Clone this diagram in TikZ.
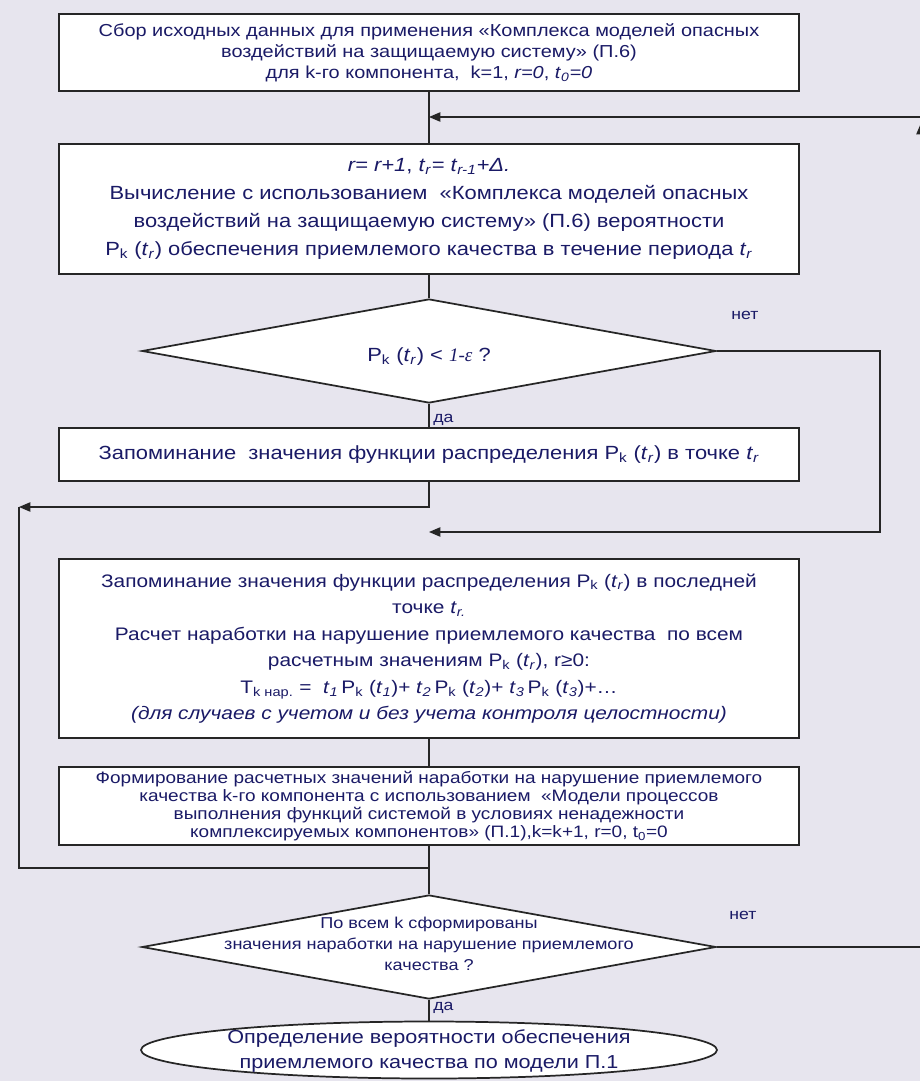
\documentclass[tikz,border=0pt]{standalone}
\usepackage{fontspec}
\setmainfont{Liberation Sans}[FakeStretch=1.15]
\newfontfamily\serifit{Liberation Serif}
\usetikzlibrary{shapes.geometric,arrows.meta}

\definecolor{slidebg}{RGB}{231,229,238}
\definecolor{navy}{RGB}{26,26,102}

\newcommand{\px}{0.75pt}
\newcommand{\tr}[1]{\textit{t}\textsubscript{\textit{#1}}}
\newcommand{\Pk}{P\textsubscript{k}}
\newcommand{\shapetext}[2][0pt]{\smash{\raisebox{#1}{\begin{tabular}{@{}c@{}}#2\end{tabular}}}}

\tikzset{
  block/.style={draw=black!85, line width=1.3pt, fill=white, text=navy, align=center,
    minimum width=740*\px, inner sep=0pt, font=\fontsize{14.3}{21}\selectfont},
  decision/.style={diamond, aspect=5.5, draw=black!85, line width=1.3pt, fill=white, text=navy,
    minimum width=574*\px, minimum height=104*\px, inner sep=0pt, font=\fontsize{14.3}{16}\selectfont},
  terminal/.style={ellipse, draw=black!85, line width=1.3pt, fill=white, text=navy,
    minimum width=576*\px, minimum height=57*\px, inner sep=0pt, font=\fontsize{14.1}{18.75}\selectfont},
  answer/.style={text=navy, font=\fontsize{11.5}{13}\selectfont, inner sep=0pt},
  link/.style={draw=black!85, line width=1pt},
  flowarrow/.style={link, -{Triangle[length=8.5pt,width=7pt]}}
}

\begin{document}
\begin{tikzpicture}[x=\px, y=-\px]
  \fill[slidebg] (0,0) rectangle (920,1081);
  \useasboundingbox (0,0) rectangle (920,1081);

  \node[block, minimum height=77*\px, font=\fontsize{13}{15.75}\selectfont] (collect) at (429,52.5)
    {Сбор исходных данных для применения «Комплекса моделей опасных\\
     воздействий на защищаемую систему» (П.6)\\
     для k-го компонента,\ \ k=1, \textit{r=0}, \tr{0}\textit{=0}};
  \node[block, minimum height=130*\px] (calc) at (429,209)
    {\textit{r= r+1}, \tr{r}\textit{= t}\textsubscript{\textit{r-1}}\textit{+Δ.}\\
     Вычисление с использованием\ \ «Комплекса моделей опасных\\
     воздействий на защищаемую систему» (П.6) вероятности\\
     \Pk\ (\tr{r}) обеспечения приемлемого качества в течение периода \tr{r}};
  \node[decision] (check) at (429,351)
    {\shapetext[-8.5pt]{\Pk\ (\tr{r}) < {\serifit\itshape 1-ε} ?}};
  \node[block, minimum height=53*\px] (store) at (429,454.5)
    {Запоминание\ \ значения функции распределения \Pk\ (\tr{r}) в точке \tr{r}};
  \node[block, minimum height=179*\px, font=\fontsize{13.6}{19.9}\selectfont] (last) at (429,648.5)
    {Запоминание значения функции распределения \Pk\ (\tr{r}) в последней\\
     точке \tr{r.}\\
     Расчет наработки на нарушение приемлемого качества\ \ по всем\\
     расчетным значениям \Pk\ (\tr{r}), r≥0:\\
     T\textsubscript{k нар.} =\ \ \tr{1}\,\Pk\ (\tr{1})+ \tr{2}\,\Pk\ (\tr{2})+ \tr{3}\,\Pk\ (\tr{3})+…\\
     \textit{(для случаев с учетом и без учета контроля целостности)}};
  \node[block, minimum height=78*\px, font=\fontsize{12.4}{13.5}\selectfont] (form) at (429,806)
    {Формирование расчетных значений наработки на нарушение приемлемого\\
     качества k-го компонента с использованием\ \ «Модели процессов\\
     выполнения функций системой в условиях ненадежности\\
     комплексируемых компонентов» (П.1),k=k+1, r=0, t\textsubscript{0}=0};
  \node[decision, font=\fontsize{11.8}{15.75}\selectfont] (allk) at (429,947)
    {\shapetext[-1.5pt]{По всем k сформированы\\
     значения наработки на нарушение приемлемого\\
     качества ?}};
  \node[terminal] (result) at (429,1050)
    {\shapetext[-4.5pt]{Определение вероятности обеспечения\\
     приемлемого качества по модели П.1}};

  \coordinate (joinA) at (429,117);
  \coordinate (joinB) at (429,532);
  \coordinate (joinC) at (429,868);
  \coordinate (leftup) at (19,507);
  \coordinate (rightup) at (921,117);

  \draw[link] (collect) -- (calc);
  \draw[link] (calc) -- (check);
  \draw[link] (check) -- (store);
  \draw[link] (last) -- (form);
  \draw[link] (form) -- (allk);
  \draw[link] (allk) -- (result);
  \draw[flowarrow] (rightup) -- (joinA);
  \draw[flowarrow] (check.east) -| (880,532) -- (joinB);
  \draw[flowarrow] (store.south) |- (leftup);
  \draw[link] (joinC) -| (leftup);
  \draw[flowarrow] (allk.east) -| ([yshift=-4.5pt]rightup);

  \node[answer] (no1) at (745,315) {нет};
  \node[answer, anchor=west] (yes1) at (433,420) {да};
  \node[answer] (no2) at (743,915) {нет};
  \node[answer, anchor=west] (yes2) at (433,1008) {да};
\end{tikzpicture}
\end{document}
